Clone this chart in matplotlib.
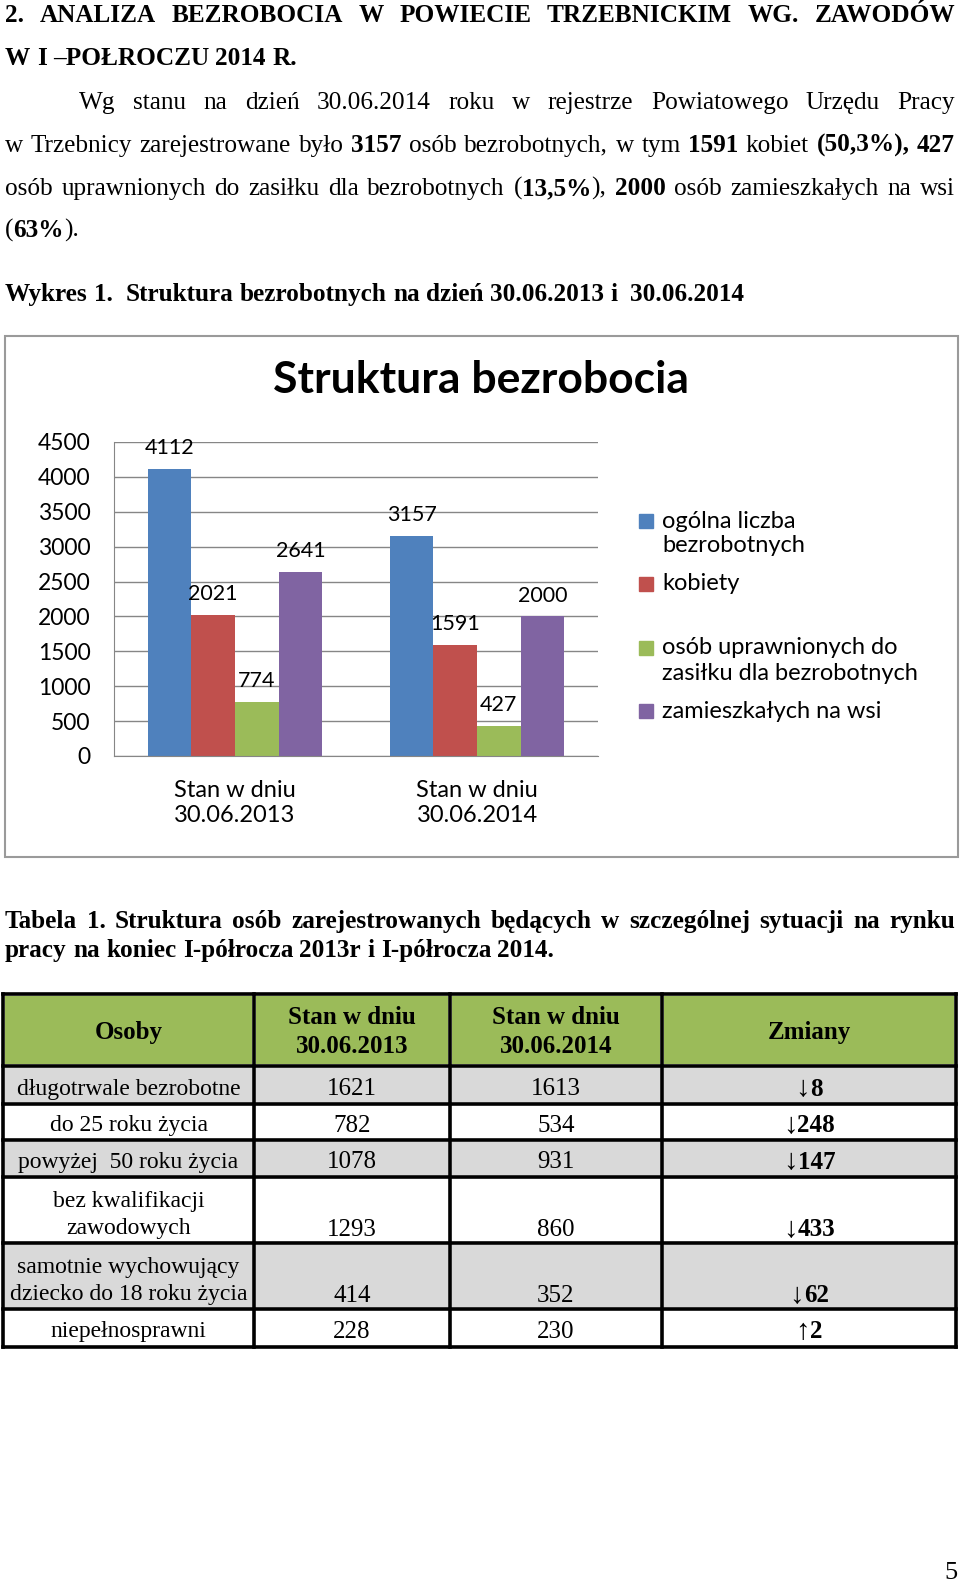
import matplotlib
matplotlib.use('Agg')
import matplotlib.pyplot as plt
from matplotlib.patches import Rectangle
import numpy as np

# chart data (Wykres 1)
categories = ['Stan w dniu\n30.06.2013', 'Stan w dniu\n30.06.2014']
series_names = ['ogólna liczba\nbezrobotnych', 'kobiety',
                'osób uprawnionych do\nzasiłku dla bezrobotnych', 'zamieszkałych na wsi']
ogolna = [4112, 3157]
kobiety = [2021, 1591]
uprawnieni = [774, 427]
wies = [2641, 2000]
series_colors = ['#4F81BD', '#C0504D', '#9BBB59', '#8064A2']
yticks = [0, 500, 1000, 1500, 2000, 2500, 3000, 3500, 4000, 4500]

# table data (Tabela 1)
table_header = ['Osoby', 'Stan w dniu\n30.06.2013', 'Stan w dniu\n30.06.2014', 'Zmiany']
row_names = ['długotrwale bezrobotne', 'do 25 roku życia', 'powyżej  50 roku życia',
             'bez kwalifikacji\nzawodowych', 'samotnie wychowujący\ndziecko do 18 roku życia',
             'niepełnosprawni']
stan_2013 = [1621, 782, 1078, 1293, 414, 228]
stan_2014 = [1613, 534, 931, 860, 352, 230]
zmiany = [-8, -248, -147, -433, -62, 2]

# page text, *...* = bold
heading = ['2. ANALIZA BEZROBOCIA W POWIECIE TRZEBNICKIM WG. ZAWODÓW',
           'W I –POŁROCZU 2014 R.']
paragraph = ['Wg stanu na dzień 30.06.2014 roku w rejestrze Powiatowego Urzędu Pracy',
             'w Trzebnicy zarejestrowane było *3157* osób bezrobotnych, w tym *1591* kobiet *(50,3%), 427*',
             'osób uprawnionych do zasiłku dla bezrobotnych (*13,5%*), *2000* osób zamieszkałych na wsi',
             '(*63%*).']
wykres_caption = 'Wykres 1.  Struktura bezrobotnych na dzień 30.06.2013 i  30.06.2014'
tabela_caption = ['Tabela 1. Struktura osób zarejestrowanych będących w szczególnej sytuacji na rynku',
                  'pracy na koniec I-półrocza 2013r i I-półrocza 2014.']

SERIF = ['Liberation Serif', 'DejaVu Serif']
SANS = ['Lato', 'DejaVu Sans']
BODY = 18.2

W, H = 960, 1584
fig = plt.figure(figsize=(9.6, 15.84), dpi=100)
page = fig.add_axes([0, 0, 1, 1])
page.set_xlim(0, W)
page.set_ylim(H, 0)
page.axis('off')
renderer = fig.canvas.get_renderer()


def seg_width(s, bold, size, family=SERIF):
    t = page.text(0, 0, s, fontsize=size, fontweight='bold' if bold else 'normal', family=family)
    w = t.get_window_extent(renderer).width
    t.remove()
    return w


def parse(line, bold=False):
    words = []
    for w in line.split(' '):
        segs = []
        for i, p in enumerate(w.split('*')):
            if i > 0:
                bold = not bold
            if p:
                segs.append((p, bold))
        words.append(segs)
    return words


def draw_line(line, y, x0, x1=None, size=BODY, bold=False):
    words = parse(line, bold)
    widths = [[seg_width(s, b, size) for s, b in w] for w in words]
    totals = [sum(ws) for ws in widths]
    if x1 is None or len(words) < 2:
        gap = seg_width('a a', bold, size) - seg_width('aa', bold, size)
    else:
        gap = (x1 - x0 - sum(totals)) / (len(words) - 1)
    x = x0
    for w, ws in zip(words, widths):
        for (s, b), sw in zip(w, ws):
            page.text(x, y, s, fontsize=size, fontweight='bold' if b else 'normal',
                      family=SERIF, ha='left', va='baseline')
            x += sw
        x += gap


# heading and paragraph
draw_line(heading[0], 22, 5, 955, bold=True)
draw_line(heading[1], 65, 5, bold=True)
draw_line(paragraph[0], 109, 79, 955)
draw_line(paragraph[1], 152, 5, 955)
draw_line(paragraph[2], 195, 5, 955)
draw_line(paragraph[3], 237, 5)
draw_line(wykres_caption, 301, 5, bold=True)

# chart frame
page.add_patch(Rectangle((5, 336), 953, 521, fill=False, edgecolor='#9a9a9a', lw=1.5))
page.text(481, 380, 'Struktura bezrobocia', fontsize=32, fontweight='bold',
          family=SANS, ha='center', va='center')

ax = fig.add_axes([114 / W, 1 - 756 / H, 484 / W, 314 / H])
x = np.arange(len(categories))
bw = 0.18
for i, (vals, col) in enumerate(zip([ogolna, kobiety, uprawnieni, wies], series_colors)):
    xs = x + (i - 1.5) * bw
    ax.bar(xs, vals, width=bw, color=col, zorder=2)
    for xi, v in zip(xs, vals):
        ax.annotate(str(v), (xi, v), xytext=(0, 15), textcoords='offset points',
                    ha='center', va='center', fontsize=15.5, family=SANS)
ax.set_xlim(-0.5, 1.5)
ax.set_ylim(0, 4500)
ax.set_yticks(yticks)
ax.set_yticklabels([str(t) for t in yticks], fontsize=16.5, family=SANS)
ax.set_xticks(x)
ax.set_xticklabels(categories, fontsize=17, family=SANS, linespacing=1.25)
ax.tick_params(axis='y', length=0, pad=17)
ax.tick_params(axis='x', length=0, pad=17)
ax.yaxis.grid(True, color='#868686', lw=1)
ax.set_axisbelow(True)
for s in ['top', 'right']:
    ax.spines[s].set_visible(False)
for s in ['left', 'bottom']:
    ax.spines[s].set_color('#868686')

# legend
legend_y = [521, 584, 648, 711]
for name, col, ly in zip(series_names, series_colors, legend_y):
    page.add_patch(Rectangle((639, ly - 7), 14, 14, color=col))
    for k, part in enumerate(name.split('\n')):
        page.text(662, ly + k * 25, part, fontsize=17, family=SANS, ha='left', va='center')

# table caption
draw_line(tabela_caption[0], 928, 5, 955, bold=True)
draw_line(tabela_caption[1], 957, 5, bold=True)

# table
col_x = [3, 254, 450, 662, 956]
row_y = [994, 1066, 1104, 1140, 1177, 1243, 1309, 1347]
fills = ['#9BBB59', '#D9D9D9', '#FFFFFF', '#D9D9D9', '#FFFFFF', '#D9D9D9', '#FFFFFF']
for r in range(len(row_y) - 1):
    for c in range(len(col_x) - 1):
        page.add_patch(Rectangle((col_x[c] + 2, row_y[r] + 2), col_x[c + 1] - col_x[c] - 4,
                                 row_y[r + 1] - row_y[r] - 4, color=fills[r], lw=0))
for yy in row_y:
    page.plot([col_x[0], col_x[-1]], [yy, yy], color='black', lw=2.6, solid_capstyle='projecting')
for xx in col_x:
    page.plot([xx, xx], [row_y[0], row_y[-1]], color='black', lw=2.6, solid_capstyle='projecting')

centers = [(col_x[c] + col_x[c + 1]) / 2 for c in range(4)]
NS = 17    # row names
VS = 18    # values
for c, h in enumerate(table_header):
    page.text(centers[c], (row_y[0] + row_y[1]) / 2 + 2, h, fontsize=18, fontweight='bold',
              family=SERIF, ha='center', va='center', linespacing=1.32)


def draw_centered(segs, cx, y):
    # segs: (text, bold, size)
    ws = [seg_width(s, b, sz) for s, b, sz in segs]
    xx = cx - sum(ws) / 2
    for (s, b, sz), w in zip(segs, ws):
        page.text(xx, y, s, fontsize=sz, fontweight='bold' if b else 'normal',
                  family=SERIF, ha='left', va='center')
        xx += w


for r, name in enumerate(row_names):
    top, bot = row_y[r + 1], row_y[r + 2]
    two = '\n' in name
    name_y = (top + bot) / 2 + (5 if two else 4)
    val_y = bot - 13 if two else name_y
    page.text(centers[0], name_y, name, fontsize=NS, family=SERIF, ha='center', va='center',
              linespacing=1.35)
    page.text(centers[1], val_y, str(stan_2013[r]), fontsize=VS, family=SERIF, ha='center', va='center')
    page.text(centers[2], val_y, str(stan_2014[r]), fontsize=VS, family=SERIF, ha='center', va='center')
    arrow = '↓' if zmiany[r] < 0 else '↑'
    draw_centered([(arrow, False, 21), (str(abs(zmiany[r])), True, VS)], centers[3], val_y)

page.text(951, 1573, '5', fontsize=19, family=SERIF, ha='center', va='center')

fig.savefig('out.png', dpi=100)
